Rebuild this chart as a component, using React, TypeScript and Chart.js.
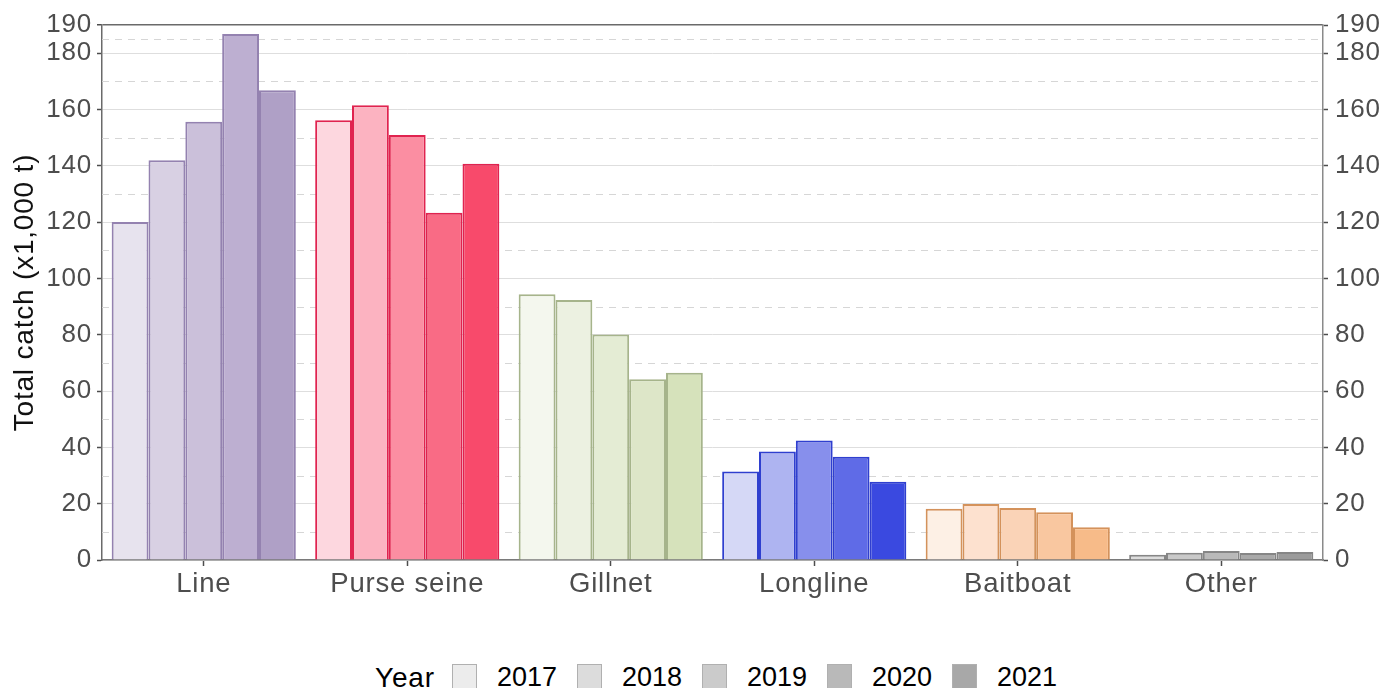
import React, { useEffect, useRef } from "react";
import { Chart, registerables } from "chart.js";

Chart.register(...registerables);

const categories = ["Line", "Purse seine", "Gillnet", "Longline", "Baitboat", "Other"];
const years = ["2017", "2018", "2019", "2020", "2021"];

const v2017 = [120, 156.2, 94.4, 31.4, 18.2, 1.9];
const v2018 = [142, 161.5, 92.3, 38.5, 19.9, 2.6];
const v2019 = [155.6, 150.9, 80.1, 42.4, 18.5, 3.2];
const v2020 = [186.8, 123.3, 64.2, 36.7, 17.0, 2.5];
const v2021 = [166.8, 140.7, 66.5, 27.8, 11.6, 2.8];
const seriesValues = [v2017, v2018, v2019, v2020, v2021];

const majorTicks = [0, 20, 40, 60, 80, 100, 120, 140, 160, 180, 190];
const minorTicks = [10, 30, 50, 70, 90, 110, 130, 150, 170, 185];

// colours per category, one per year
const fillLine = ["#e7e3ee", "#d8d0e3", "#cbc0da", "#bdafd1", "#afa0c6"];
const fillPurse = ["#fdd7df", "#fcb3c1", "#fb8ea2", "#f96b85", "#f84a6b"];
const fillGill = ["#f4f7ee", "#ecf1e1", "#e4ecd4", "#dde6c8", "#d6e2bb"];
const fillLong = ["#d5d8f6", "#aeb4f1", "#878fec", "#5f6be7", "#3a49e0"];
const fillBait = ["#fdf0e5", "#fde1cf", "#fad3b7", "#f9c7a0", "#f7bb89"];
const fillOther = ["#dddddd", "#c9c9c9", "#b9b9b9", "#a9a9a9", "#9b9b9b"];
const categoryFills = [fillLine, fillPurse, fillGill, fillLong, fillBait, fillOther];
const categoryBorders = ["#9482b0", "#e0234f", "#a6b48b", "#2f3fcf", "#d4925b", "#868686"];

const legendFills = ["#ececec", "#dcdcdc", "#cbcbcb", "#b9b9b9", "#a8a8a8"];

const FONT = "'Liberation Sans', Arial, Helvetica, sans-serif";

const spacingPlugin = {
  id: "spacing",
  beforeLayout(chart: any) {
    chart.ctx.letterSpacing = "0.8px";
  },
  beforeDraw(chart: any) {
    chart.ctx.letterSpacing = "0.8px";
  },
};

const minorGridPlugin = {
  id: "minorGrid",
  beforeDatasetsDraw(chart: any) {
    const { ctx, chartArea } = chart;
    const y = chart.scales.y;
    ctx.save();
    ctx.strokeStyle = "#d6d6d6";
    ctx.lineWidth = 1;
    ctx.setLineDash([7, 6]);
    for (const v of minorTicks) {
      const py = Math.round(y.getPixelForValue(v)) + 0.5;
      ctx.beginPath();
      ctx.moveTo(chartArea.left, py);
      ctx.lineTo(chartArea.right, py);
      ctx.stroke();
    }
    ctx.restore();
  },
};

export default function App() {
  const ref = useRef<HTMLCanvasElement>(null);

  useEffect(() => {
    if (!ref.current) return;
    const datasets = years.map((yr, i) => ({
      label: yr,
      data: seriesValues[i],
      backgroundColor: categoryFills.map((c) => c[i]),
      borderColor: categoryBorders,
      borderWidth: 2,
      barPercentage: 1.0,
      categoryPercentage: 0.905,
    }));

    const tickFont = { family: FONT, size: 26 };
    const chart = new Chart(ref.current, {
      type: "bar",
      data: { labels: categories, datasets },
      plugins: [spacingPlugin, minorGridPlugin],
      options: {
        animation: false,
        responsive: false,
        devicePixelRatio: 1,
        layout: { padding: { top: 25, left: 0, right: 0, bottom: 0 } },
        plugins: { legend: { display: false }, tooltip: { enabled: false } },
        scales: {
          x: {
            grid: {
              display: true,
              offset: false,
              drawOnChartArea: false,
              drawTicks: true,
              tickLength: 6,
              tickColor: "#4d4d4d",
              tickWidth: 1.5,
            },
            border: { display: true, color: "#7a7a7a", width: 1.5 },
            ticks: { color: "#4d4d4d", font: { family: FONT, size: 27.5 }, padding: 2 },
            afterFit: (s: any) => {
              s.height = 80;
            },
          },
          y: {
            position: "left",
            min: 0,
            max: 190,
            afterBuildTicks: (s: any) => {
              s.ticks = majorTicks.map((v) => ({ value: v }));
            },
            grid: {
              color: (c: any) => (c.tick && c.tick.value === 190 ? "#6a6a6a" : "#dedede"),
              lineWidth: (c: any) => (c.tick && c.tick.value === 190 ? 1.5 : 1),
              tickLength: 5,
              tickColor: "#4d4d4d",
              tickWidth: 1.5,
            },
            border: { display: true, color: "#6a6a6a", width: 1.5 },
            ticks: { color: "#4d4d4d", font: tickFont, padding: 5, autoSkip: false },
            title: {
              display: true,
              text: "Total catch (x1,000 t)",
              color: "#111111",
              font: { family: FONT, size: 28 },
              padding: { top: 8, bottom: 0 },
            },
            afterFit: (s: any) => {
              s.width = 102;
            },
          },
          yRight: {
            position: "right",
            min: 0,
            max: 190,
            afterBuildTicks: (s: any) => {
              s.ticks = majorTicks.map((v) => ({ value: v }));
            },
            grid: {
              drawOnChartArea: false,
              tickLength: 5,
              tickColor: "#4d4d4d",
              tickWidth: 1.5,
            },
            border: { display: true, color: "#8a8a8a", width: 1.5 },
            ticks: { color: "#4d4d4d", font: tickFont, padding: 7, autoSkip: false },
            afterFit: (s: any) => {
              s.width = 61;
            },
          },
        },
      },
    } as any);
    return () => chart.destroy();
  }, []);

  return (
    <div style={{ position: "absolute", left: 0, top: 0, width: 1384, height: 688, background: "#ffffff", overflow: "hidden" }}>
      <canvas ref={ref} width={1384} height={640} style={{ display: "block", width: 1384, height: 640 }} />
      <div
        style={{
          position: "absolute",
          left: 375,
          top: 664,
          display: "flex",
          alignItems: "flex-start",
          fontFamily: FONT,
          fontSize: 27,
          lineHeight: "27px",
          color: "#000000",
          whiteSpace: "nowrap",
        }}
      >
        <span style={{ display: "inline-block", width: 77, fontSize: 28, letterSpacing: "0.8px" }}>Year</span>
        {years.map((yr, i) => (
          <React.Fragment key={yr}>
            <span
              style={{
                display: "inline-block",
                boxSizing: "border-box",
                width: 25,
                height: 25,
                background: legendFills[i],
                border: "1.5px solid #b0b0b0",
                marginRight: 20,
              }}
            />
            <span style={{ display: "inline-block", width: 80 }}>{yr}</span>
          </React.Fragment>
        ))}
      </div>
    </div>
  );
}
